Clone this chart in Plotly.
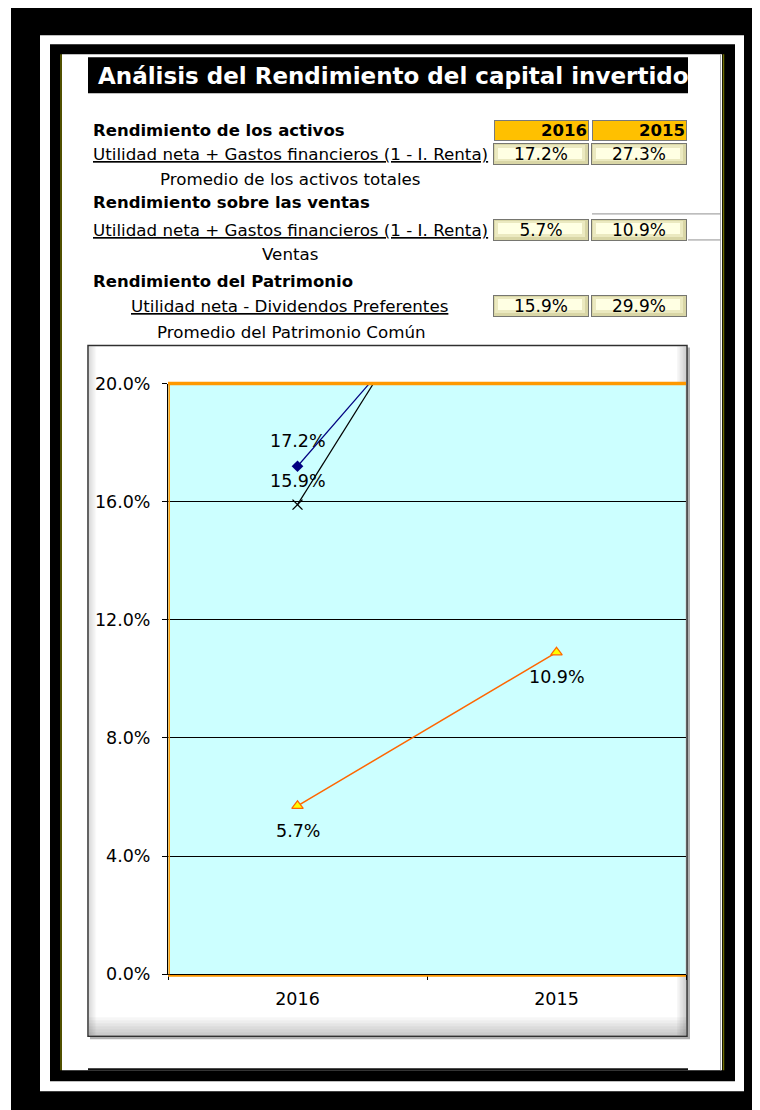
import plotly.graph_objects as go

# ---------------- data ----------------
years = ["2016", "2015"]
row_keys = ["ROA", "ROS", "ROE"]
roa = [0.172, 0.273]   # Rendimiento de los activos
ros = [0.057, 0.109]   # Rendimiento sobre las ventas
roe = [0.159, 0.299]   # Rendimiento del Patrimonio
y_ticks = [0.0, 0.04, 0.08, 0.12, 0.16, 0.20]

title_text = "Análisis del Rendimiento del capital invertido"
section_titles = ["Rendimiento de los activos", "Rendimiento sobre las ventas", "Rendimiento del Patrimonio"]
numerators = ["Utilidad neta + Gastos financieros (1 - I. Renta)",
              "Utilidad neta + Gastos financieros (1 - I. Renta)",
              "Utilidad neta - Dividendos Preferentes"]
denominators = ["Promedio de los activos totales", "Ventas", "Promedio del Patrimonio Común"]

# ---------------- layout helpers ----------------
W, H = 760, 1110
OFFX = 8                 # horizontal page offset of the figure
OFFY, SY = 17.78, 0.981  # vertical page offset / scale observed in the photographed page
FONT = "DejaVu Sans"


def px(x):
    return (x - OFFX) / W


def py(y):
    return 1 - ((y - OFFY) / SY) / H


def rect(x0, y0, x1, y1, fill, line_color=None, lw=0, layer="below"):
    return dict(type="rect", xref="paper", yref="paper",
                x0=px(x0), x1=px(x1), y0=py(y1), y1=py(y0),
                fillcolor=fill, line=dict(color=line_color or fill, width=lw), layer=layer)


def hline(x0, x1, y, color, lw, layer="below"):
    return dict(type="line", xref="paper", yref="paper", x0=px(x0), x1=px(x1),
                y0=py(y), y1=py(y), line=dict(color=color, width=lw), layer=layer)


def vline(x, y0, y1, color, lw, layer="below"):
    return dict(type="line", xref="paper", yref="paper", x0=px(x), x1=px(x),
                y0=py(y0), y1=py(y1), line=dict(color=color, width=lw), layer=layer)


shapes = []
# outer frames
shapes.append(rect(11, 0, 770, 1120, "black"))
shapes.append(rect(40, 35, 744, 1090, "white"))
shapes.append(rect(50, 44, 735, 1080, "black"))
shapes.append(rect(62, 54, 722, 1069, "white"))
shapes.append(vline(61, 54, 1069, "#6B6B00", 1.5))
shapes.append(vline(723.5, 54, 1069, "#6B6B00", 1.5))
shapes.append(vline(720.5, 54, 1069, "#A8A8A8", 1))
shapes.append(hline(88, 688, 1068, "#111111", 2))
# title box
shapes.append(rect(88, 57, 688, 93, "black"))
# grey cell lines to the right of the table
shapes.append(hline(592, 720.5, 213.5, "#909090", 1))
shapes.append(hline(688, 720.5, 239.5, "#909090", 1))

# chart frame with shadow and soft inner shading
shapes.append(rect(90, 347, 690, 1038, "#B0B0B0"))
shapes.append(rect(88, 345, 687, 1035, "white", "#303030", 1.5))
for k in range(1, 7):
    shapes.append(rect(89, 1034 - 3 * k, 686, 1034, "rgba(0,0,0,0.035)"))
    shapes.append(rect(686 - 1.5 * k, 346, 686, 1034, "rgba(0,0,0,0.03)"))
    shapes.append(rect(89, 346, 89 + 1.2 * k, 1034, "rgba(0,0,0,0.025)"))
# plot area fill
shapes.append(rect(168, 383, 685.5, 973, "#CCFFFF"))
# plot area orange borders (drawn above the grid)
shapes.append(hline(168, 686, 383, "#FF9900", 3.5, "above"))
shapes.append(vline(169.2, 383, 973, "#FF9900", 1.5, "above"))
shapes.append(hline(168, 686, 974.6, "#FF9900", 1.8, "above"))

annotations = []
# title
annotations.append(dict(xref="paper", yref="paper", x=px(96), y=py(76), xanchor="left", yanchor="middle",
                        text="<b>" + title_text + "</b>", showarrow=False,
                        font=dict(family=FONT, size=23, color="white")))

# table text
title_y = [130.5, 202.5, 281]
num_y = [154, 229.5, 305.5]
num_x = [("left", 92), ("left", 92), ("center", 289)]
den_y = [178.5, 253.5, 331]
den_x = [290, 290, 291]
for i in range(3):
    annotations.append(dict(xref="paper", yref="paper", x=px(91), y=py(title_y[i]), xanchor="left",
                            yanchor="middle", text="<b>" + section_titles[i] + "</b>", showarrow=False,
                            font=dict(family=FONT, size=16.5, color="black")))
    anc, xx = num_x[i]
    annotations.append(dict(xref="paper", yref="paper", x=px(xx - (1 if anc == "left" else 0)), y=py(num_y[i]),
                            xanchor=anc, yanchor="middle", text="<u>" + numerators[i] + "</u>",
                            showarrow=False, font=dict(family=FONT, size=16.7, color="black")))
    annotations.append(dict(xref="paper", yref="paper", x=px(den_x[i]), y=py(den_y[i]), xanchor="center",
                            yanchor="middle", text=denominators[i], showarrow=False,
                            font=dict(family=FONT, size=16.7, color="black")))

# table cells: values positioned via the table axes (x2: years, y2: rows; serial category indices)
series_by_row = {"ROA": roa, "ROS": ros, "ROE": roe}
cell_layers = [(92, 18, "#D9D6A6", 1, 0, 0), (88, 14, "#EBE9C0", 0, -1, 1), (82, 9, "#FFFFE3", 0, -1, 1)]
for j, yr in enumerate(years):
    annotations.append(dict(xref="x2", yref="y2", x=j, y=0, yshift=23.5, text="<b>" + yr + "</b>",
                            showarrow=False, width=91, height=17, align="right", bgcolor="#FFC000",
                            bordercolor="#7A7A7A", borderwidth=1, borderpad=1,
                            font=dict(family=FONT, size=16.5, color="black")))
    for r, rk in enumerate(row_keys):
        v = series_by_row[rk][j]
        for (cw, ch, col, bw, xs, ys) in cell_layers:
            annotations.append(dict(xref="x2", yref="y2", x=j, y=r, text=" ", showarrow=False,
                                    width=cw, height=ch, bgcolor=col, xshift=xs, yshift=ys,
                                    bordercolor="#767670" if bw else col, borderwidth=bw,
                                    borderpad=1 + (18 - ch) * 0 if bw else 1,
                                    font=dict(family=FONT, size=6, color=col)))
        annotations.append(dict(xref="x2", yref="y2", x=j, y=r, text=f"{v:.1%}",
                                showarrow=False, width=92, height=18, align="center",
                                bgcolor="rgba(0,0,0,0)", borderwidth=0, borderpad=2,
                                font=dict(family=FONT, size=17, color="black")))

# chart data labels (only for points inside the value axis range)
ymax = y_ticks[-1]
label_specs = [(roa, 25), (roe, 24), (ros, -25)]
for vals, shift in label_specs:
    for j, v in enumerate(vals):
        if v <= ymax:
            annotations.append(dict(xref="x", yref="y", x=j, y=v, yshift=shift, text=f"{v:.1%}",
                                    showarrow=False, font=dict(family=FONT, size=17.5, color="black")))

fig = go.Figure()
fig.add_trace(go.Scatter(x=years, y=roa, mode="lines+markers", name="Rendimiento de los activos",
                         line=dict(color="#000080", width=1.2),
                         marker=dict(symbol="diamond", size=9, color="#000080")))
fig.add_trace(go.Scatter(x=years, y=roe, mode="lines+markers", name="Rendimiento del Patrimonio",
                         line=dict(color="black", width=1.2),
                         marker=dict(symbol="x-thin", size=10, color="black",
                                     line=dict(color="black", width=1.3))))
fig.add_trace(go.Scatter(x=years, y=ros, mode="lines+markers", name="Rendimiento sobre las ventas",
                         line=dict(color="#FF6600", width=1.5),
                         marker=dict(symbol="triangle-up", size=10, color="#FFFF00",
                                     line=dict(color="#FF6600", width=1.2))))
# table subplot anchor trace (cells of the table, invisible markers under the annotation boxes)
tab_x = [yr for yr in years for _ in row_keys]
tab_y = [rk for _ in years for rk in row_keys]
fig.add_trace(go.Scatter(x=tab_x, y=tab_y, xaxis="x2", yaxis="y2", mode="markers",
                         marker=dict(size=1, opacity=0), hoverinfo="skip"))

fig.update_layout(
    autosize=False,
    width=W, height=H, margin=dict(l=0, r=0, t=0, b=0),
    paper_bgcolor="white", plot_bgcolor="rgba(0,0,0,0)",
    showlegend=False,
    shapes=shapes, annotations=annotations,
    xaxis=dict(domain=[px(168), px(686)], type="category", categoryorder="array", categoryarray=years,
               range=[-0.5, 1.5], tickson="boundaries", ticks="outside", ticklen=5, tickcolor="black",
               showline=True, linecolor="black", linewidth=1, showgrid=False, zeroline=False,
               ticklabelstandoff=9, tickfont=dict(family=FONT, size=17.5, color="black"), anchor="y",
               fixedrange=True),
    yaxis=dict(domain=[py(973), py(383)], range=[0, ymax], tickvals=y_ticks, tickformat=".1%",
               ticks="outside", ticklen=5, tickcolor="black", showline=True, linecolor="black",
               linewidth=1, showgrid=True, gridcolor="black", gridwidth=1, zeroline=False,
               ticklabelstandoff=8, tickfont=dict(family=FONT, size=17.5, color="black"), anchor="x",
               fixedrange=True),
    xaxis2=dict(domain=[px(492), px(688)], type="category", categoryorder="array", categoryarray=years,
                range=[-0.5, 1.5], visible=False, anchor="y2", fixedrange=True),
    yaxis2=dict(domain=[py(342.75), py(116.25)], type="category", categoryorder="array",
                categoryarray=row_keys, range=[2.5, -0.5], visible=False, anchor="x2", fixedrange=True),
)

fig.write_html("out.html")
